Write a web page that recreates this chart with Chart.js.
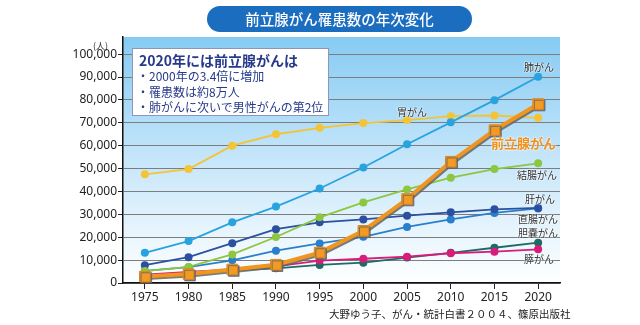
<!DOCTYPE html>
<html lang="ja">
<head>
<meta charset="utf-8">
<script src="https://cdn.jsdelivr.net/npm/chart.js@4.4.1/dist/chart.umd.min.js"></script>
<style>
  html, body { margin: 0; padding: 0; background: #fff; }
  #wrap { position: relative; width: 640px; height: 325px; font-family: "Noto Sans CJK JP", "Noto Sans", sans-serif; }
  #title { position: absolute; left: 207px; top: 6px; width: 265px; height: 26px; border-radius: 13px;
           background: #1b6dc0; color: #fff; font-size: 14.5px; font-weight: 500; line-height: 26px; text-align: center; }
  #note { position: absolute; left: 132px; top: 48px; width: 195px; height: 66px; background: #fff;
          border: 1.5px solid #8b96b8; color: #26398a; }
  #note .h { position: absolute; left: 6px; top: 1px; font-size: 14px; font-weight: 700; white-space: nowrap; }
  #note .i { position: absolute; left: 4px; font-size: 12px; white-space: nowrap; }
  .lbl { position: absolute; font-size: 10px; color: #333; white-space: nowrap; line-height: 12px;
         text-shadow: 0 0 2px #fff, 0 0 2px #fff; }
  #unit { position: absolute; left: 93px; top: 39px; font-size: 9px; color: #333; }
  #src { position: absolute; left: 329px; top: 306px; font-size: 10.5px; color: #222; white-space: nowrap; }
</style>
</head>
<body>
<div id="wrap">
  <canvas id="chart"></canvas>
  <div id="title">前立腺がん罹患数の年次変化</div>
  <div id="unit">(人)</div>
  <div id="note">
    <div class="h">2020年には前立腺がんは</div>
    <div class="i" style="top:18px">・2000年の3.4倍に増加</div>
    <div class="i" style="top:34px">・罹患数は約8万人</div>
    <div class="i" style="top:49px">・肺がんに次いで男性がんの第2位</div>
  </div>
  <div class="lbl" style="left:524px;top:61px">肺がん</div>
  <div class="lbl" style="left:397px;top:106px">胃がん</div>
  <div class="lbl" style="left:491px;top:135px;font-size:13px;font-weight:700;color:#f0901a;line-height:16px">前立腺がん</div>
  <div class="lbl" style="left:517px;top:169px">結腸がん</div>
  <div class="lbl" style="left:525px;top:193px">肝がん</div>
  <div class="lbl" style="left:518px;top:213px">直腸がん</div>
  <div class="lbl" style="left:518px;top:227px">胆嚢がん</div>
  <div class="lbl" style="left:524px;top:253px">膵がん</div>
  <div id="src">大野ゆう子、がん・統計白書２００４、篠原出版社</div>
</div>
<script>
const years = ['1975', '1980', '1985', '1990', '1995', '2000', '2005', '2010', '2015', '2020'];
const yTicks = [0, 10000, 20000, 30000, 40000, 50000, 60000, 70000, 80000, 90000, 100000];
const prostate = [2800, 3900, 5900, 8000, 13300, 22800, 36700, 53000, 66800, 78200];
const lung = [13200, 18300, 26500, 33400, 41300, 50500, 60600, 70200, 79900, 90100];
const stomach = [47500, 49800, 60000, 65000, 67800, 69900, 71200, 72900, 73200, 72200];
const colon = [5200, 7000, 12500, 20100, 28700, 35200, 40900, 46000, 49800, 52300];
const liver = [7800, 11300, 17400, 23500, 26500, 27800, 29400, 30900, 32200, 32800];
const rectum = [5300, 6900, 9900, 14100, 17300, 20200, 24500, 27800, 30600, 32600];
const gallbladder = [2300, 3600, 5500, 6400, 7900, 8900, 11100, 13200, 15400, 17600];
const pancreas = [3600, 4800, 5900, 7300, 9800, 10600, 11500, 13000, 13700, 14700];

function line(label, data, color) {
  return {
    label: label, data: data, borderColor: color, backgroundColor: color,
    borderWidth: 1.8, pointRadius: 4, pointBorderWidth: 0, tension: 0
  };
}

// gradient background inside the plot
const bgPlugin = {
  id: 'bg',
  beforeDraw(chart) {
    const { ctx, chartArea: a } = chart;
    const g = ctx.createLinearGradient(0, a.top, 0, a.bottom);
    g.addColorStop(0, '#86cbf3');
    g.addColorStop(0.5, '#c6e6fa');
    g.addColorStop(1, '#ffffff');
    ctx.save();
    ctx.fillStyle = g;
    ctx.fillRect(a.left, a.top, a.right - a.left, a.bottom - a.top);
    ctx.restore();
  }
};

// gray shadow under the prostate line
const shadowPlugin = {
  id: 'shadow',
  beforeDatasetDraw(chart, args) {
    if (args.index !== 0) return;
    const ctx = chart.ctx;
    ctx.save();
    ctx.shadowColor = 'rgba(100,100,100,0.85)';
    ctx.shadowOffsetX = 1.5;
    ctx.shadowOffsetY = 1.5;
    ctx.shadowBlur = 0;
  },
  afterDatasetDraw(chart, args) {
    if (args.index !== 0) return;
    chart.ctx.restore();
  }
};

const prostateSet = {
  label: '前立腺がん', data: prostate, borderColor: '#f0961e', backgroundColor: '#f39a22',
  borderWidth: 4, pointStyle: 'rect', pointRadius: 7.5, pointBorderColor: '#d98424',
  pointBorderWidth: 1, tension: 0
};

new Chart(document.getElementById('chart'), {
  type: 'line',
  data: {
    labels: years,
    datasets: [
      prostateSet,
      line('肺がん', lung, '#29a3e0'),
      line('胃がん', stomach, '#f2c436'),
      line('結腸がん', colon, '#8dc63f'),
      line('肝がん', liver, '#2b50a0'),
      line('直腸がん', rectum, '#2a7fcb'),
      line('膵がん', pancreas, '#d91c7a'),
      line('胆嚢がん', gallbladder, '#1c6b64')
    ]
  },
  options: {
    responsive: true,
    maintainAspectRatio: false,
    animation: false,
    layout: { padding: { top: 37, right: 80, left: 0, bottom: 0 } },
    plugins: { legend: { display: false }, tooltip: { enabled: false } },
    scales: {
      x: {
        offset: true,
        grid: { offset: false, drawOnChartArea: false, color: '#222', tickLength: 6 },
        border: { color: '#111', width: 1.5 },
        ticks: { color: '#222', padding: 1, font: { family: 'Noto Sans', size: 12 } },
        afterFit(s) { s.height = 42; }
      },
      y: {
        min: 0, max: 107500,
        afterBuildTicks(s) { s.ticks = yTicks.map(v => ({ value: v })); },
        grid: { color: '#7d7d7d', tickColor: '#222', tickLength: 5, lineWidth: 1 },
        border: { color: '#111', width: 1.5 },
        ticks: {
          autoSkip: false, color: '#222', padding: 1,
          font: { family: 'Noto Sans', size: 12 },
          callback: v => v.toLocaleString('en-US')
        },
        afterFit(s) { s.width = 123; }
      }
    }
  },
  plugins: [bgPlugin, shadowPlugin]
});
</script>
</body>
</html>
